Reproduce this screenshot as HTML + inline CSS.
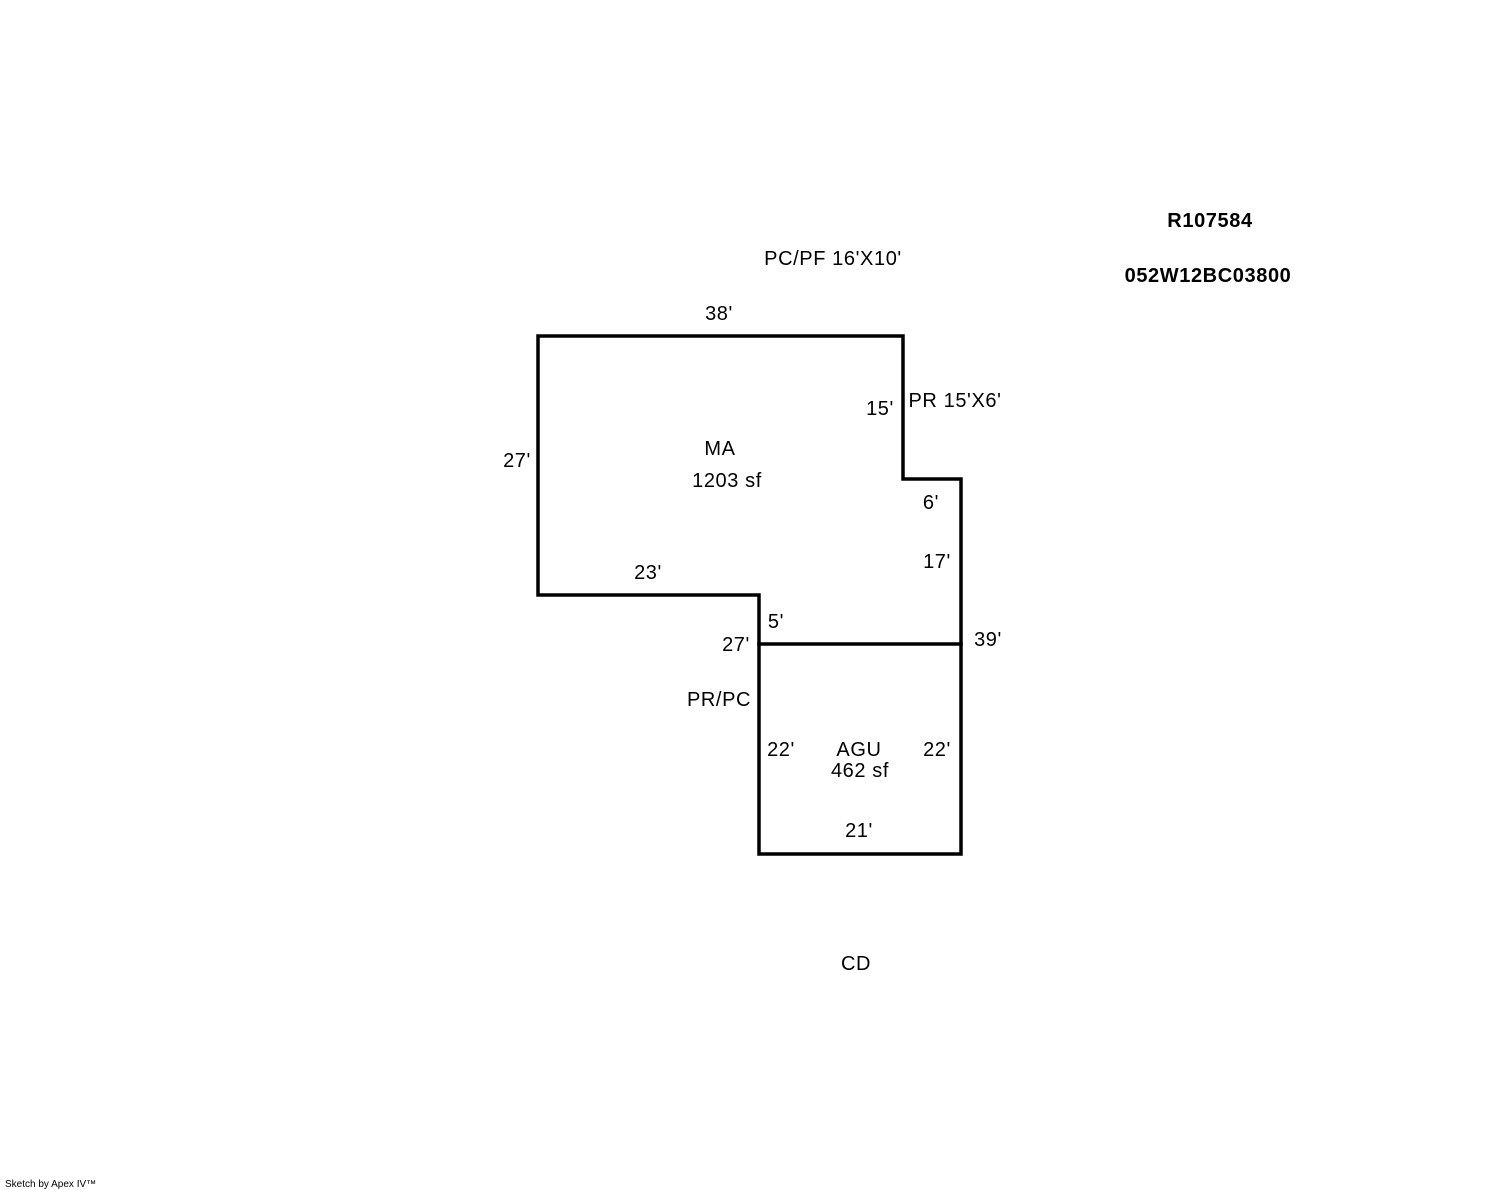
<!DOCTYPE html>
<html><head><style>
html,body{margin:0;padding:0;background:#fff;}
svg{display:block;}
text{font-family:"Liberation Sans",Arial,sans-serif;font-size:20px;letter-spacing:0.6px;fill:#000;}
</style></head><body>
<svg width="1488" height="1190" viewBox="0 0 1488 1190" xmlns="http://www.w3.org/2000/svg">
<g fill="none" stroke="#000" stroke-width="3.5" stroke-linecap="square">
<polyline points="538,336 903,336 903,479 961,479 961,854 759,854 759,595 538,595 538,336"/>
<line x1="759" y1="644" x2="961" y2="644"/>
</g>
<g text-anchor="middle">
<text x="1210" y="227" font-weight="bold">R107584</text>
<text x="1208" y="282" font-weight="bold">052W12BC03800</text>
<text x="833" y="265">PC/PF 16'X10'</text>
<text x="719" y="320">38'</text>
<text x="880" y="415">15'</text>
<text x="955" y="407">PR 15'X6'</text>
<text x="517" y="467">27'</text>
<text x="720" y="455">MA</text>
<text x="727" y="487">1203 sf</text>
<text x="931" y="509">6'</text>
<text x="937" y="568">17'</text>
<text x="648" y="579">23'</text>
<text x="776" y="628">5'</text>
<text x="736" y="651">27'</text>
<text x="988" y="646">39'</text>
<text x="719" y="706">PR/PC</text>
<text x="781" y="756">22'</text>
<text x="859" y="756">AGU</text>
<text x="860" y="777">462 sf</text>
<text x="937" y="756">22'</text>
<text x="859" y="837">21'</text>
<text x="856" y="970">CD</text>
</g>
<text x="5" y="1187" style="font-size:10px;letter-spacing:0">Sketch by Apex IV™</text>
</svg>
</body></html>
